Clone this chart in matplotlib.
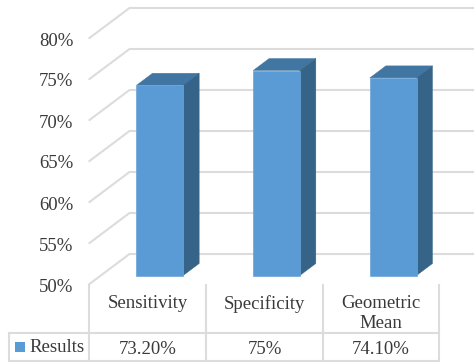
import matplotlib
matplotlib.use('Agg')
import matplotlib.pyplot as plt
from matplotlib.lines import Line2D
from matplotlib.patches import Polygon, Rectangle
from matplotlib.transforms import Affine2D, IdentityTransform, offset_copy

categories = ['Sensitivity', 'Specificity', 'Geometric\nMean']
results = [73.2, 75, 74.1]
result_labels = ['73.20%', '75%', '74.10%']
ticks = [50, 55, 60, 65, 70, 75, 80]
tick_labels = ['50%', '55%', '60%', '65%', '70%', '75%', '80%']
series_name = 'Results'

plt.rcParams['font.family'] = ['Liberation Serif', 'DejaVu Serif']
W, H = 474, 362
GRID = '#dcdcdc'
TEXT = '#3a3a3a'
FRONT = '#5b9bd5'
TOP = '#4176a3'
SIDE = '#356488'
FS = 13.5

fig = plt.figure(figsize=(W / 100, H / 100), dpi=100)
ax = fig.add_axes([89.5 / W, (H - 284) / H, 350 / W, 246 / H])
ax.set_zorder(3)
ax.set_xlim(-0.5, 2.5)
ax.set_ylim(50, 80)
for s in ax.spines.values():
    s.set_visible(False)
ax.patch.set_visible(False)
ax.set_yticks(ticks, tick_labels, fontsize=FS, color=TEXT)
ax.tick_params(axis='y', length=0, pad=11.5)
ax.set_xticks([])
for lb in ax.get_yticklabels():
    lb.set_transform(lb.get_transform() + Affine2D().translate(0, -1))

px = IdentityTransform()


def at(x, v, dx=0, dy=0):
    # data position pushed back by a pixel depth offset
    p = ax.transData.transform((x, v))
    return p[0] + dx, p[1] + dy


def pix(x, y):
    # pixel position counted from the top left
    return x, H - y


def line(pts, lw=1.5):
    xs, ys = zip(*pts)
    fig.add_artist(Line2D(xs, ys, transform=px, color=GRID, lw=lw, zorder=1))


# floor-to-wall gridlines
for v in ticks:
    p0 = at(-0.5, v)
    p1 = at(-0.5, v, 40, 30)
    line([p0, p1, (W, p1[1])])

# 3d columns
floor_dx, floor_dy = 12, 8.5
depth_dx, depth_dy = 16, 12
bar_w = 0.4
front = offset_copy(ax.transData, fig=fig, x=floor_dx, y=floor_dy, units='dots')
xpos = list(range(len(categories)))
ax.bar(xpos, [r - 50 for r in results], bottom=50, width=bar_w, color=FRONT,
       edgecolor='#6aa5da', lw=0.5, transform=front, zorder=5)
for x, r in zip(xpos, results):
    l, rt = x - bar_w / 2, x + bar_w / 2
    a = at(l, r, floor_dx, floor_dy)
    b = at(rt, r, floor_dx, floor_dy)
    c = at(rt, 50, floor_dx, floor_dy)
    back = lambda p: (p[0] + depth_dx, p[1] + depth_dy)
    ax.add_patch(Polygon([a, b, back(b), back(a)], transform=px, fc=TOP,
                         ec=TOP, lw=0.3, zorder=4, clip_on=False))
    ax.add_patch(Polygon([b, c, back(c), back(b)], transform=px, fc=SIDE,
                         ec=SIDE, lw=0.3, zorder=4, clip_on=False))

# data table under the chart
col_edges = [at(i - 0.5, 50)[0] for i in range(len(categories) + 1)]
table_top = H - 285
row_line = H - 333
table_bottom = H - 361
table_left = 9
for xe in col_edges:
    line([(xe, table_top), (xe, table_bottom)])
line([(table_left, row_line), (col_edges[-1], row_line)])
line([(table_left, table_bottom), (col_edges[-1], table_bottom)])
line([(table_left, row_line), (table_left, table_bottom)])

for x, cat, lab in zip(xpos, categories, result_labels):
    ax.annotate(cat, xy=(x, 0), xycoords=ax.get_xaxis_transform(),
                xytext=(0, -11), textcoords='offset pixels', ha='center', va='top',
                fontsize=FS, color=TEXT, linespacing=1.22, annotation_clip=False)
    ax.annotate(lab, xy=(x, 0), xycoords=ax.get_xaxis_transform(),
                xytext=(0, -66), textcoords='offset pixels', ha='center', va='center',
                fontsize=FS, color=TEXT, annotation_clip=False)

fig.add_artist(Rectangle(pix(15, 352), 10, 10, transform=px, fc=FRONT, ec='none'))
fig.text(29 / W, (H - 348) / H, series_name, fontsize=FS, color=TEXT, va='center')

fig.savefig('out.png', dpi=100)
